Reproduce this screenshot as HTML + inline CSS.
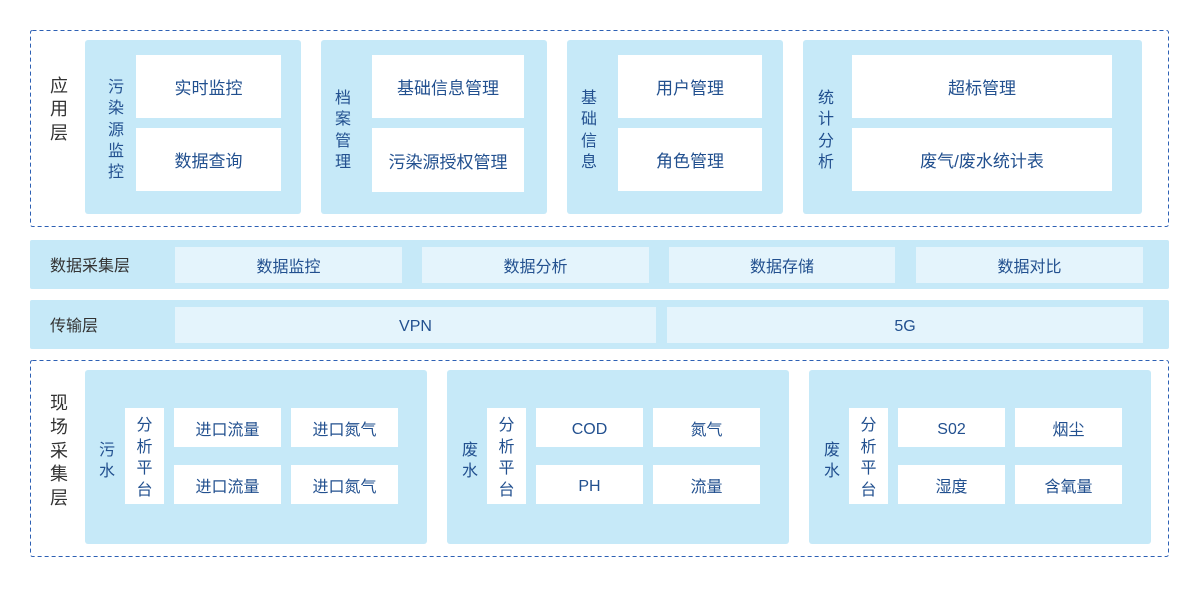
<!DOCTYPE html>
<html><head><meta charset="utf-8">
<style>
*{margin:0;padding:0;box-sizing:border-box}
body{width:1200px;height:595px;background:#fff;position:relative;overflow:hidden;font-family:"Liberation Sans","Noto Sans CJK SC",sans-serif;}
.a{position:absolute}
.p{position:absolute;background:#c6e9f8;border-radius:3px}
.w{position:absolute;background:#fff;display:flex;align-items:center;justify-content:center;color:#22508f;font-size:16px}
.w17{font-size:17px}
.l{position:absolute;background:#e4f4fc;display:flex;align-items:center;justify-content:center;color:#22508f;font-size:16px}
.lat{padding-top:4px}
.v{position:absolute;width:20px;text-align:center;color:#22508f;font-size:16px;line-height:21.3px}
.g{position:absolute;width:22px;text-align:center;color:#333;font-size:18px}
.t{position:absolute;color:#333;font-size:16px;line-height:20px}
</style></head><body>
<svg class="a" style="left:0;top:0" width="1200" height="595">
<rect x="30.5" y="30.5" width="1138" height="196" rx="2" fill="none" stroke="#2d60b4" stroke-width="1" stroke-dasharray="4 3"/>
<rect x="30.5" y="360.5" width="1138" height="196" rx="2" fill="none" stroke="#2d60b4" stroke-width="1" stroke-dasharray="4 3"/>
</svg>

<!-- 应用层 -->
<div class="g" style="left:48px;top:75px;line-height:23.3px">应<br>用<br>层</div>

<div class="p" style="left:85px;top:40px;width:216px;height:174px"></div>
<div class="v" style="left:106px;top:77px">污<br>染<br>源<br>监<br>控</div>
<div class="w w17" style="left:136px;top:55px;width:145px;height:63px">实时监控</div>
<div class="w w17" style="left:136px;top:128px;width:145px;height:63px">数据查询</div>

<div class="p" style="left:321px;top:40px;width:226px;height:174px"></div>
<div class="v" style="left:333px;top:88px">档<br>案<br>管<br>理</div>
<div class="w w17" style="left:372px;top:55px;width:152px;height:63px">基础信息管理</div>
<div class="w w17" style="left:372px;top:128px;width:152px;height:64px">污染源授权管理</div>

<div class="p" style="left:567px;top:40px;width:216px;height:174px"></div>
<div class="v" style="left:579px;top:88px">基<br>础<br>信<br>息</div>
<div class="w w17" style="left:618px;top:55px;width:144px;height:63px">用户管理</div>
<div class="w w17" style="left:618px;top:128px;width:144px;height:63px">角色管理</div>

<div class="p" style="left:803px;top:40px;width:339px;height:174px"></div>
<div class="v" style="left:816px;top:88px">统<br>计<br>分<br>析</div>
<div class="w w17" style="left:852px;top:55px;width:260px;height:63px">超标管理</div>
<div class="w w17" style="left:852px;top:128px;width:260px;height:63px">废气/废水统计表</div>

<!-- 数据采集层 -->
<div class="p" style="left:30px;top:240px;width:1139px;height:49px;border-radius:2px"></div>
<div class="t" style="left:50px;top:257px">数据采集层</div>
<div class="l" style="left:175px;top:247px;width:227px;height:36px">数据监控</div>
<div class="l" style="left:422px;top:247px;width:227px;height:36px">数据分析</div>
<div class="l" style="left:669px;top:247px;width:226px;height:36px">数据存储</div>
<div class="l" style="left:916px;top:247px;width:227px;height:36px">数据对比</div>

<!-- 传输层 -->
<div class="p" style="left:30px;top:300px;width:1139px;height:49px;border-radius:2px"></div>
<div class="t" style="left:50px;top:317px">传输层</div>
<div class="l lat" style="left:175px;top:307px;width:481px;height:36px">VPN</div>
<div class="l lat" style="left:667px;top:307px;width:476px;height:36px">5G</div>

<!-- 现场采集层 -->
<div class="g" style="left:48px;top:392px;line-height:23.75px">现<br>场<br>采<br>集<br>层</div>

<div class="p" style="left:85px;top:370px;width:342px;height:174px"></div>
<div class="v" style="left:97px;top:440px;line-height:21px">污<br>水</div>
<div class="w" style="left:125px;top:408px;width:39px;height:96px"></div>
<div class="v" style="left:134.5px;top:415px;line-height:21.5px">分<br>析<br>平<br>台</div>
<div class="w" style="left:174px;top:408px;width:107px;height:39px">进口流量</div>
<div class="w" style="left:291px;top:408px;width:107px;height:39px">进口氮气</div>
<div class="w" style="left:174px;top:465px;width:107px;height:39px">进口流量</div>
<div class="w" style="left:291px;top:465px;width:107px;height:39px">进口氮气</div>

<div class="p" style="left:447px;top:370px;width:342px;height:174px"></div>
<div class="v" style="left:460px;top:440px;line-height:21px">废<br>水</div>
<div class="w" style="left:487px;top:408px;width:39px;height:96px"></div>
<div class="v" style="left:496.5px;top:415px;line-height:21.5px">分<br>析<br>平<br>台</div>
<div class="w lat" style="left:536px;top:408px;width:107px;height:39px">COD</div>
<div class="w" style="left:653px;top:408px;width:107px;height:39px">氮气</div>
<div class="w lat" style="left:536px;top:465px;width:107px;height:39px">PH</div>
<div class="w" style="left:653px;top:465px;width:107px;height:39px">流量</div>

<div class="p" style="left:809px;top:370px;width:342px;height:174px"></div>
<div class="v" style="left:822px;top:440px;line-height:21px">废<br>水</div>
<div class="w" style="left:849px;top:408px;width:39px;height:96px"></div>
<div class="v" style="left:858.5px;top:415px;line-height:21.5px">分<br>析<br>平<br>台</div>
<div class="w lat" style="left:898px;top:408px;width:107px;height:39px">S02</div>
<div class="w" style="left:1015px;top:408px;width:107px;height:39px">烟尘</div>
<div class="w" style="left:898px;top:465px;width:107px;height:39px">湿度</div>
<div class="w" style="left:1015px;top:465px;width:107px;height:39px">含氧量</div>
</body></html>
